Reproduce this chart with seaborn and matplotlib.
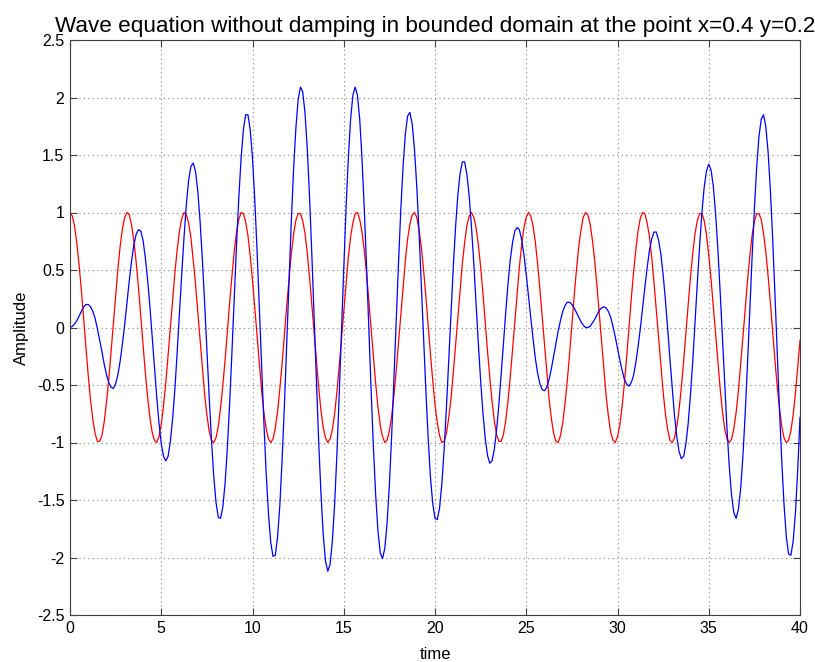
import numpy as np
import pandas as pd
import matplotlib
matplotlib.use("Agg")
import matplotlib.pyplot as plt
import seaborn as sns

# samples, one every 0.125 time units from t=0 to t=40
time_step = 0.125

red_wave = [
    1.00, 0.97, 0.88, 0.73, 0.54, 0.32, 0.07, -0.18, -0.42, -0.63,
    -0.80, -0.92, -0.99, -0.99, -0.94, -0.82, -0.65, -0.45, -0.21, 0.04,
    0.28, 0.51, 0.71, 0.86, 0.96, 1.00, 0.98, 0.89, 0.75, 0.57,
    0.35, 0.10, -0.15, -0.39, -0.60, -0.78, -0.91, -0.98, -1.00, -0.95,
    -0.84, -0.68, -0.48, -0.24, 0.00, 0.25, 0.48, 0.68, 0.84, 0.95,
    1.00, 0.98, 0.91, 0.78, 0.59, 0.38, 0.14, -0.11, -0.35, -0.58,
    -0.76, -0.90, -0.98, -1.00, -0.96, -0.86, -0.70, -0.50, -0.28, -0.03,
    0.22, 0.45, 0.66, 0.83, 0.94, 1.00, 0.99, 0.92, 0.80, 0.62,
    0.41, 0.17, -0.08, -0.32, -0.55, -0.74, -0.88, -0.97, -1.00, -0.97,
    -0.87, -0.73, -0.53, -0.31, -0.06, 0.19, 0.42, 0.64, 0.81, 0.93,
    0.99, 0.99, 0.93, 0.82, 0.65, 0.44, 0.20, -0.05, -0.29, -0.52,
    -0.72, -0.87, -0.96, -1.00, -0.97, -0.89, -0.75, -0.56, -0.34, -0.10,
    0.15, 0.39, 0.61, 0.79, 0.91, 0.99, 1.00, 0.94, 0.83, 0.67,
    0.47, 0.23, -0.01, -0.26, -0.49, -0.69, -0.85, -0.95, -1.00, -0.98,
    -0.90, -0.77, -0.59, -0.37, -0.13, 0.12, 0.36, 0.58, 0.77, 0.90,
    0.98, 1.00, 0.96, 0.85, 0.70, 0.50, 0.27, 0.02, -0.23, -0.46,
    -0.67, -0.83, -0.94, -1.00, -0.99, -0.92, -0.79, -0.62, -0.40, -0.16,
    0.09, 0.33, 0.56, 0.74, 0.89, 0.97, 1.00, 0.96, 0.87, 0.72,
    0.53, 0.30, 0.05, -0.20, -0.43, -0.64, -0.81, -0.93, -0.99, -0.99,
    -0.93, -0.81, -0.64, -0.43, -0.19, 0.06, 0.30, 0.53, 0.72, 0.87,
    0.96, 1.00, 0.97, 0.88, 0.74, 0.55, 0.33, 0.09, -0.16, -0.40,
    -0.62, -0.79, -0.92, -0.99, -1.00, -0.94, -0.83, -0.66, -0.46, -0.23,
    0.02, 0.27, 0.50, 0.70, 0.85, 0.96, 1.00, 0.98, 0.90, 0.76,
    0.58, 0.36, 0.12, -0.13, -0.37, -0.59, -0.77, -0.91, -0.98, -1.00,
    -0.95, -0.85, -0.69, -0.49, -0.26, -0.01, 0.24, 0.47, 0.67, 0.84,
    0.95, 1.00, 0.99, 0.91, 0.79, 0.61, 0.39, 0.15, -0.10, -0.34,
    -0.56, -0.75, -0.89, -0.98, -1.00, -0.96, -0.86, -0.71, -0.52, -0.29,
    -0.04, 0.20, 0.44, 0.65, 0.82, 0.93, 0.99, 0.99, 0.93, 0.81,
    0.63, 0.42, 0.18, -0.06, -0.31, -0.53, -0.73, -0.88, -0.97, -1.00,
    -0.97, -0.88, -0.74, -0.55, -0.32, -0.08, 0.17, 0.41, 0.62, 0.80,
    0.92, 0.99, 0.99, 0.94, 0.82, 0.66, 0.45, 0.22, -0.03, -0.28,
    -0.51, -0.70, -0.86, -0.96, -1.00, -0.98, -0.90, -0.76, -0.57, -0.35,
    -0.11,
]

blue_wave = [
    0.00, 0.01, 0.03, 0.06, 0.10, 0.14, 0.18, 0.20, 0.20, 0.18,
    0.14, 0.08, -0.01, -0.11, -0.21, -0.32, -0.41, -0.48, -0.52, -0.53,
    -0.49, -0.41, -0.29, -0.14, 0.03, 0.22, 0.41, 0.58, 0.72, 0.81,
    0.85, 0.84, 0.76, 0.61, 0.42, 0.19, -0.07, -0.34, -0.60, -0.83,
    -1.01, -1.12, -1.16, -1.12, -0.99, -0.79, -0.53, -0.21, 0.13, 0.47,
    0.79, 1.07, 1.28, 1.40, 1.43, 1.36, 1.19, 0.93, 0.60, 0.22,
    -0.19, -0.60, -0.97, -1.29, -1.52, -1.65, -1.66, -1.56, -1.35, -1.04,
    -0.65, -0.21, 0.26, 0.72, 1.13, 1.47, 1.72, 1.85, 1.85, 1.72,
    1.47, 1.11, 0.67, 0.18, -0.33, -0.83, -1.27, -1.62, -1.87, -1.99,
    -1.98, -1.82, -1.54, -1.14, -0.67, -0.14, 0.40, 0.92, 1.37, 1.73,
    1.98, 2.09, 2.05, 1.87, 1.56, 1.14, 0.64, 0.09, -0.46, -0.99,
    -1.44, -1.80, -2.03, -2.12, -2.06, -1.86, -1.54, -1.10, -0.59, -0.04,
    0.51, 1.03, 1.47, 1.81, 2.02, 2.09, 2.02, 1.81, 1.47, 1.03,
    0.53, -0.01, -0.55, -1.04, -1.46, -1.77, -1.96, -2.01, -1.92, -1.70,
    -1.37, -0.94, -0.45, 0.06, 0.56, 1.02, 1.40, 1.68, 1.84, 1.87,
    1.77, 1.55, 1.23, 0.83, 0.37, -0.10, -0.55, -0.96, -1.30, -1.53,
    -1.66, -1.67, -1.57, -1.36, -1.06, -0.70, -0.29, 0.12, 0.52, 0.87,
    1.15, 1.34, 1.44, 1.44, 1.33, 1.14, 0.87, 0.56, 0.21, -0.14,
    -0.46, -0.74, -0.96, -1.11, -1.18, -1.16, -1.06, -0.89, -0.67, -0.41,
    -0.14, 0.13, 0.38, 0.59, 0.74, 0.84, 0.87, 0.85, 0.76, 0.63,
    0.46, 0.27, 0.08, -0.10, -0.27, -0.40, -0.49, -0.54, -0.55, -0.52,
    -0.45, -0.36, -0.25, -0.14, -0.03, 0.06, 0.14, 0.19, 0.22, 0.22,
    0.20, 0.17, 0.13, 0.09, 0.05, 0.02, 0.00, 0.00, 0.01, 0.04,
    0.07, 0.11, 0.15, 0.17, 0.18, 0.17, 0.14, 0.09, 0.01, -0.08,
    -0.18, -0.28, -0.37, -0.45, -0.49, -0.51, -0.48, -0.42, -0.31, -0.17,
    -0.01, 0.17, 0.35, 0.52, 0.67, 0.77, 0.83, 0.83, 0.76, 0.64,
    0.46, 0.24, -0.01, -0.28, -0.53, -0.77, -0.95, -1.08, -1.14, -1.12,
    -1.01, -0.83, -0.58, -0.29, 0.05, 0.39, 0.71, 1.00, 1.22, 1.36,
    1.42, 1.37, 1.23, 0.99, 0.68, 0.31, -0.09, -0.50, -0.88, -1.21,
    -1.46, -1.61, -1.66, -1.58, -1.40, -1.11, -0.74, -0.31, 0.15, 0.61,
    1.03, 1.39, 1.66, 1.81, 1.85, 1.75, 1.53, 1.20, 0.78, 0.30,
    -0.21, -0.71, -1.16, -1.54, -1.82, -1.97, -1.98, -1.86, -1.61, -1.24,
    -0.78,
]

x_ticks = [0, 5, 10, 15, 20, 25, 30, 35, 40]
y_ticks = [-2.5, -2, -1.5, -1, -0.5, 0, 0.5, 1, 1.5, 2, 2.5]

time = np.arange(len(red_wave)) * time_step
df = pd.DataFrame({"time": time, "red": red_wave, "blue": blue_wave})

sns.set_theme(style="white")
plt.rcParams['font.family'] = ['Liberation Sans', 'DejaVu Sans']
plt.rcParams['text.color'] = 'black'
plt.rcParams['axes.labelcolor'] = 'black'

fig = plt.figure(figsize=(8.15, 6.62), dpi=100)
ax = fig.add_axes([70 / 815, 47 / 662, 730 / 815, 575 / 662])

sns.lineplot(data=df, x="time", y="red", color="red", lw=0.9, ax=ax)
sns.lineplot(data=df, x="time", y="blue", color="blue", lw=0.9, ax=ax)

ax.set_xlim(0, 40)
ax.set_ylim(-2.5, 2.5)
ax.set_xticks(x_ticks)
ax.set_xticklabels([f"{v:g}" for v in x_ticks])
ax.set_yticks(y_ticks)
ax.set_yticklabels([f"{v:g}" for v in y_ticks])
ax.tick_params(direction="in", length=5, width=0.8, color="#404040",
               labelsize=11.5, labelcolor="black", pad=4)
ax.tick_params(top=True, right=True, bottom=True, left=True)
ax.grid(True, color="#808080", linestyle=(0, (1, 3)), linewidth=0.8)
for side in ax.spines.values():
    side.set_color("#404040")
    side.set_linewidth(0.8)

ax.set_xlabel("time", fontsize=12, labelpad=8, color="black")
ax.set_ylabel("Amplitude", fontsize=12, labelpad=6, color="black")
ax.set_title("Wave equation without damping in bounded domain at the point x=0.4 y=0.2",
             fontsize=16.2, pad=6, color="black")

fig.savefig("out.png", dpi=100)
